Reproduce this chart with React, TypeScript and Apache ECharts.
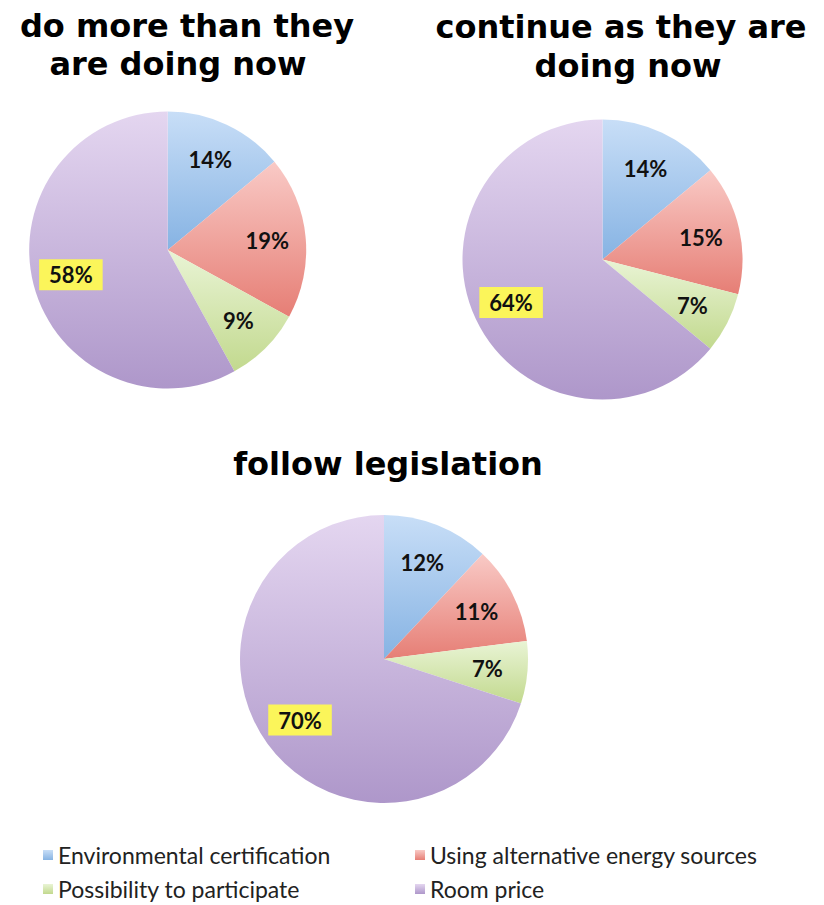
import React, { useEffect, useRef } from "react";
import * as echarts from "echarts";

const categories = [
  "Environmental certification",
  "Using alternative energy sources",
  "Possibility to participate",
  "Room price",
];
const doMoreValues = [14, 19, 9, 58];
const continueValues = [14, 15, 7, 64];
const legislationValues = [12, 11, 7, 70];

const titleLines = [
  { text: "do more than they", x: 187, y: 8 },
  { text: "are doing now", x: 178, y: 46 },
  { text: "continue as they are", x: 621, y: 9 },
  { text: "doing now", x: 628, y: 48 },
  { text: "follow legislation", x: 388, y: 446 },
];

const legendSlots = [
  { x: 43, y: 842 },
  { x: 415, y: 842 },
  { x: 43, y: 876 },
  { x: 415, y: 876 },
];

const gradients = [
  ["#c8def7", "#86b3e3"],
  ["#f9cac6", "#e67e75"],
  ["#e9f4d5", "#c2d98e"],
  ["#e4d6f0", "#ae97ca"],
];

const pies = [
  { values: doMoreValues, center: [167.7, 250], r: 138.5 },
  { values: continueValues, center: [602.5, 259.5], r: 140 },
  { values: legislationValues, center: [384, 659], r: 144 },
];

const FONT = "Lato";
const TITLE_FONT = "DejaVu Sans";

function grad(i: number) {
  return new echarts.graphic.LinearGradient(0, 0, 0, 1, [
    { offset: 0, color: gradients[i][0] },
    { offset: 1, color: gradients[i][1] },
  ]);
}

export default function App() {
  const ref = useRef<HTMLDivElement>(null);
  useEffect(() => {
    if (!ref.current) return;
    const chart = echarts.init(ref.current, null, { renderer: "svg" });
    const visible = pies.map((p) => ({
      type: "pie",
      center: p.center,
      radius: [0, p.r],
      startAngle: 90,
      clockwise: true,
      silent: true,
      label: { show: false },
      labelLine: { show: false },
      itemStyle: { borderWidth: 0 },
      emphasis: { disabled: true },
      data: categories.map((name, i) => ({
        name,
        value: p.values[i],
        itemStyle: { color: grad(i) },
      })),
    }));
    const overlays = pies.map((p) => ({
      type: "pie",
      center: p.center,
      radius: [p.r * 0.4, p.r],
      startAngle: 90,
      clockwise: true,
      silent: true,
      emphasis: { disabled: true },
      itemStyle: { color: "rgba(0,0,0,0)", borderWidth: 0 },
      labelLine: { show: false },
      label: {
        show: true,
        position: "inside",
        formatter: "{c}%",
        fontFamily: FONT,
        fontWeight: "bold",
        fontSize: 22,
        color: "#111",
      },
      data: categories.map((name, i) => ({
        name,
        value: p.values[i],
        label:
          i === 3
            ? { backgroundColor: "#fbf55a", padding: [5, 10, 4, 10] }
            : undefined,
      })),
    }));
    chart.setOption({
      animation: false,
      backgroundColor: "#ffffff",
      title: titleLines.map((t) => ({
        text: t.text,
        left: t.x,
        top: t.y,
        textAlign: "center",
        padding: 0,
        textStyle: {
          fontFamily: TITLE_FONT,
          fontWeight: "bold",
          fontSize: 32,
          lineHeight: 35,
          color: "#000",
        },
      })),
      legend: categories.map((name, i) => ({
        data: [name],
        left: legendSlots[i].x,
        top: legendSlots[i].y,
        padding: 0,
        itemWidth: 10,
        itemHeight: 10,
        icon: "rect",
        selectedMode: false,
        textStyle: {
          fontFamily: FONT,
          fontSize: 23,
          lineHeight: 26,
          color: "#222",
        },
      })),
      series: [...visible, ...overlays],
    });
    return () => chart.dispose();
  }, []);
  return (
    <div
      ref={ref}
      style={{ position: "fixed", left: 0, top: 0, width: 824, height: 905 }}
    />
  );
}
